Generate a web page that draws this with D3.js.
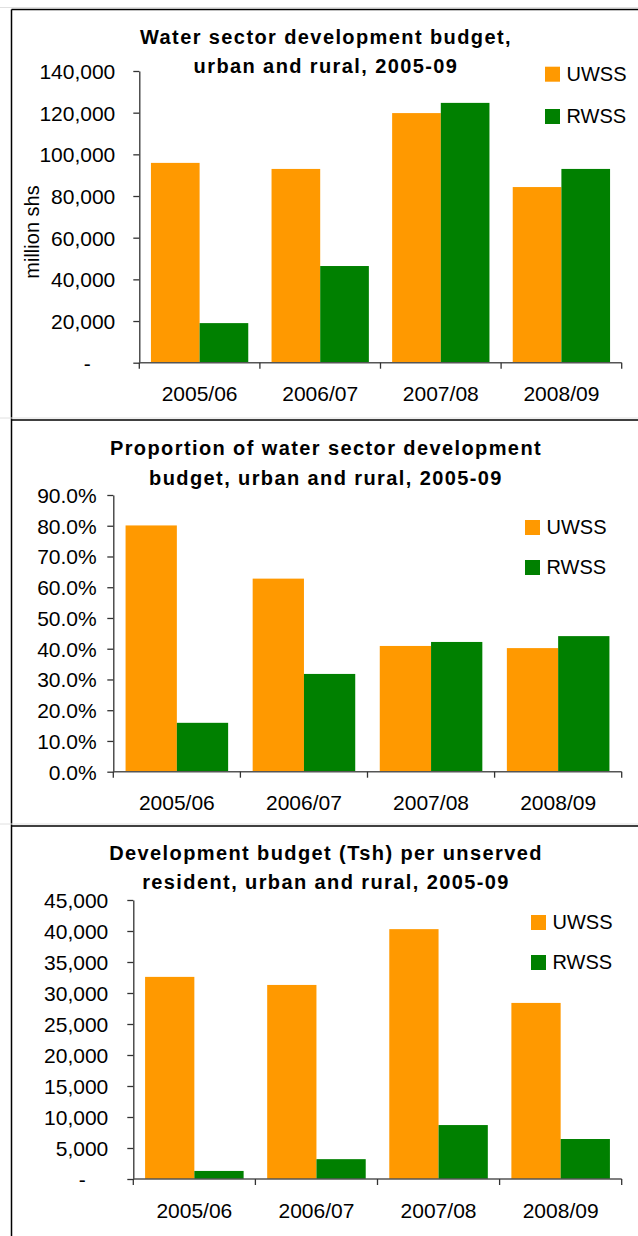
<!DOCTYPE html>
<html>
<head>
<meta charset="utf-8">
<script src="https://cdn.jsdelivr.net/npm/d3@7"></script>
<style>
  body { margin: 0; background: #fff; }
  svg text { font-family: "Liberation Sans", Arial, sans-serif; fill: #000; }
</style>
</head>
<body>
<div id="chart"></div>
<script>
// data
var years = ["2005/06", "2006/07", "2007/08", "2008/09"];
var series = ["UWSS", "RWSS"];
var budgetUwss = [95900, 93000, 119800, 84300];
var budgetRwss = [19000, 46400, 124700, 93000];
var shareUwss = [0.801, 0.628, 0.409, 0.402];
var shareRwss = [0.159, 0.318, 0.422, 0.441];
var perResUwss = [32600, 31300, 40300, 28400];
var perResRwss = [1300, 3200, 8700, 6450];
var budgetTicks = [0, 20000, 40000, 60000, 80000, 100000, 120000, 140000];
var shareTicks = [0, .1, .2, .3, .4, .5, .6, .7, .8, .9];
var perResTicks = [0, 5000, 10000, 15000, 20000, 25000, 30000, 35000, 40000, 45000];

var colors = {UWSS: "#ff9900", RWSS: "#008000"};

var W = 638, H = 1236;
var svg = d3.select("#chart").append("svg")
    .attr("width", W)
    .attr("height", H);

// frame lines
svg.append("line").attr("x1", 11.5).attr("x2", 11.5).attr("y1", 9.5).attr("y2", H)
    .attr("stroke", "#000").attr("stroke-width", 1.5);
[9.5, 420, 826].forEach(function(y) {
  svg.append("line").attr("x1", 11.5).attr("x2", W).attr("y1", y).attr("y2", y)
      .attr("stroke", "#000").attr("stroke-width", 1.5);
  svg.append("line").attr("x1", 0).attr("x2", W).attr("y1", y - 2).attr("y2", y - 2)
      .attr("stroke", "#e0e0e0").attr("stroke-width", 1);
});

var numFmt = d3.format(",.0f");
var pctFmt = d3.format(".1%");

var panels = [
  {
    title: ["Water sector development budget,", "urban and rural, 2005-09"],
    titleY: [44, 73], titleX: 326,
    uwss: budgetUwss, rwss: budgetRwss, ticks: budgetTicks, max: 140000,
    left: 139.3, right: 621.7, top: 71, bottom: 362.7,
    fmt: numFmt, labelGap: 24, dashX: -52,
    legendX: 545, legendY: [66.7, 109],
    ylabel: "million shs", ylabelPos: [32, 232]
  },
  {
    title: ["Proportion of water sector development", "budget, urban and rural, 2005-09"],
    titleY: [455, 485], titleX: 326,
    uwss: shareUwss, rwss: shareRwss, ticks: shareTicks, max: 0.9,
    left: 113.3, right: 621.7, top: 495, bottom: 771.7,
    fmt: pctFmt, labelGap: 16.6, dashX: null,
    legendX: 525, legendY: [520, 560]
  },
  {
    title: ["Development budget (Tsh) per unserved", "resident, urban and rural, 2005-09"],
    titleY: [860, 889], titleX: 326,
    uwss: perResUwss, rwss: perResRwss, ticks: perResTicks, max: 45000,
    left: 133.3, right: 621.7, top: 900, bottom: 1179,
    fmt: numFmt, labelGap: 25, dashX: -51,
    legendX: 531, legendY: [915, 955]
  }
];

panels.forEach(function(p) {
  var g = svg.append("g");

  // title
  g.selectAll(".title")
      .data(p.title)
      .enter().append("text")
      .attr("class", "title")
      .attr("x", p.titleX)
      .attr("y", function(d, i) { return p.titleY[i]; })
      .attr("text-anchor", "middle")
      .style("font-size", "20px")
      .style("font-weight", "bold")
      .style("letter-spacing", "1.4px")
      .text(function(d) { return d; });

  var x = d3.scaleBand().domain(years).range([p.left, p.right]).paddingInner(0);
  var bw = x.bandwidth();
  var x1 = d3.scaleBand().domain(series).range([bw * 0.0965, bw * 0.9035]);
  var y = d3.scaleLinear().domain([0, p.max]).range([p.bottom, p.top]);

  var rows = years.map(function(yr, i) {
    return {year: yr, vals: [{key: "UWSS", v: p.uwss[i]}, {key: "RWSS", v: p.rwss[i]}]};
  });

  // bars
  g.append("g").selectAll("g")
      .data(rows)
      .enter().append("g")
      .attr("transform", function(d) { return "translate(" + x(d.year) + ",0)"; })
      .selectAll("rect")
      .data(function(d) { return d.vals; })
      .enter().append("rect")
      .attr("x", function(d) { return x1(d.key); })
      .attr("width", x1.bandwidth())
      .attr("y", function(d) { return y(d.v); })
      .attr("height", function(d) { return p.bottom - y(d.v); })
      .style("fill", function(d) { return colors[d.key]; });

  // y axis
  var yAxis = g.append("g")
      .attr("transform", "translate(" + p.left + ",0)")
      .call(d3.axisLeft(y)
          .tickValues(p.ticks)
          .tickSize(6)
          .tickSizeOuter(0)
          .tickPadding(p.labelGap - 6)
          .tickFormat(function(d) { return (d === 0 && p.dashX !== null) ? "-" : p.fmt(d); }));
  yAxis.select(".domain").attr("stroke", "#333").attr("stroke-width", 1.3);
  yAxis.selectAll(".tick line").attr("stroke", "#333").attr("stroke-width", 1.3);
  yAxis.selectAll(".tick text")
      .style("font-size", "21px")
      .attr("dy", "0.35em")
      .filter(function(d) { return d === 0 && p.dashX !== null; })
      .attr("x", p.dashX)
      .attr("text-anchor", "middle");

  // x axis: line, ticks at band edges, labels at band centers
  g.append("line")
      .attr("x1", p.left).attr("x2", p.right)
      .attr("y1", p.bottom).attr("y2", p.bottom)
      .attr("stroke", "#555").attr("stroke-width", 1.5);
  var edges = years.map(function(d) { return x(d); }).concat([p.right]);
  g.selectAll(".xtick")
      .data(edges)
      .enter().append("line")
      .attr("class", "xtick")
      .attr("x1", function(d) { return d; }).attr("x2", function(d) { return d; })
      .attr("y1", p.bottom).attr("y2", p.bottom + 6)
      .attr("stroke", "#333").attr("stroke-width", 1.3);
  g.selectAll(".xlabel")
      .data(years)
      .enter().append("text")
      .attr("class", "xlabel")
      .attr("x", function(d) { return x(d) + bw / 2; })
      .attr("y", p.bottom + 38.5)
      .attr("text-anchor", "middle")
      .style("font-size", "21px")
      .text(function(d) { return d; });

  // legend
  var leg = g.selectAll(".legend")
      .data(series)
      .enter().append("g")
      .attr("class", "legend")
      .attr("transform", function(d, i) { return "translate(" + p.legendX + "," + p.legendY[i] + ")"; });
  leg.append("rect")
      .attr("width", 15).attr("height", 15)
      .style("fill", function(d) { return colors[d]; });
  leg.append("text")
      .attr("x", 21.5)
      .attr("y", 14)
      .style("font-size", "20px")
      .text(function(d) { return d; });

  if (p.ylabel) {
    g.append("text")
        .attr("transform", "translate(" + p.ylabelPos[0] + "," + p.ylabelPos[1] + ") rotate(-90)")
        .attr("text-anchor", "middle")
        .attr("dy", "0.35em")
        .style("font-size", "20px")
        .text(p.ylabel);
  }
});
</script>
</body>
</html>
